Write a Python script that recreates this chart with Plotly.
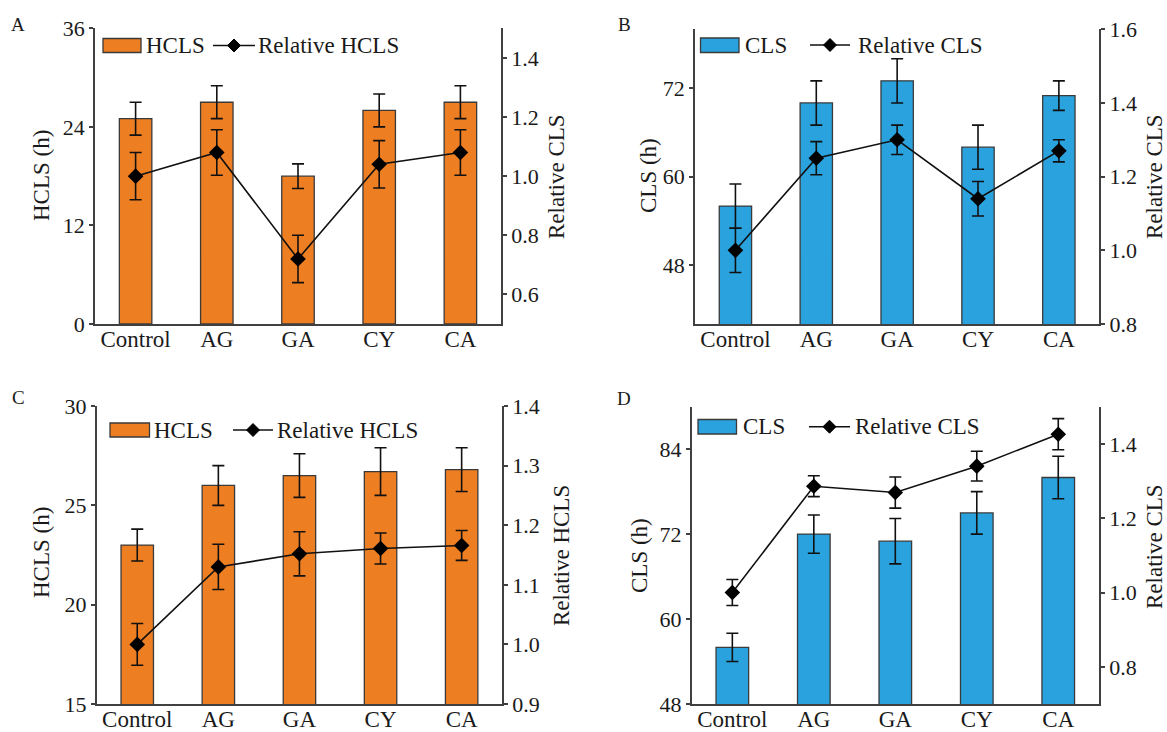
import plotly.graph_objects as go

# ---------------- data ----------------
categories = ["Control", "AG", "GA", "CY", "CA"]

a_hcls = [25.0, 27.0, 18.0, 26.0, 27.0]
a_hcls_err = [2.0, 2.0, 1.5, 2.0, 2.0]
a_rel = [1.0, 1.08, 0.72, 1.04, 1.08]
a_rel_err = [0.08, 0.077, 0.08, 0.08, 0.077]

b_cls = [56.0, 70.0, 73.0, 64.0, 71.0]
b_cls_err = [3.0, 3.0, 3.0, 3.0, 2.0]
b_rel = [1.0, 1.25, 1.30, 1.14, 1.27]
b_rel_err = [0.06, 0.045, 0.04, 0.047, 0.03]

c_hcls = [23.0, 26.0, 26.5, 26.7, 26.8]
c_hcls_err = [0.8, 1.0, 1.1, 1.2, 1.1]
c_rel = [1.0, 1.13, 1.152, 1.161, 1.166]
c_rel_err = [0.035, 0.038, 0.037, 0.026, 0.025]

d_cls = [56.0, 72.0, 71.0, 75.0, 80.0]
d_cls_err = [2.0, 2.7, 3.2, 3.0, 3.0]
d_rel = [1.0, 1.286, 1.269, 1.34, 1.426]
d_rel_err = [0.035, 0.028, 0.042, 0.04, 0.042]

# ---------------- style ----------------
W, H = 1167, 732
ORANGE = "#EE7E22"
BLUE = "#29A2DD"
OUTLINE = "#3a3a3a"
AXC = "#404040"
TXT = "#1a1a1a"
FONT = "Liberation Serif"
FS = 23
FS_Y = 22


def px(x):
    return x / W


def py(y):
    return 1 - y / H


panels = [
    dict(letter="A", letter_xy=(18, 24), bars=a_hcls, bars_err=a_hcls_err, rel=a_rel, rel_err=a_rel_err,
         color=ORANGE, bname="HCLS", rname="Relative HCLS",
         lrange=[0, 36], lticks=[0, 12, 24, 36], rrange=[0.5, 1.5], rticks=[0.6, 0.8, 1.0, 1.2, 1.4],
         xd=(95, 501), yd=(28.3, 324), ltitle="HCLS (h)", ltitle_xy=(41, 176),
         rtitle="Relative CLS", rtitle_xy=(556, 177),
         leg=dict(rect=(103, 141, 38.5, 52.5), t1=143.5, line=(213, 255), t2=256, yc=45.5)),
    dict(letter="B", letter_xy=(624, 24), bars=b_cls, bars_err=b_cls_err, rel=b_rel, rel_err=b_rel_err,
         color=BLUE, bname="CLS", rname="Relative CLS",
         lrange=[40, 80], lticks=[48, 60, 72], rrange=[0.8, 1.6], rticks=[0.8, 1.0, 1.2, 1.4, 1.6],
         xd=(695, 1099.3), yd=(29.3, 324), ltitle="CLS (h)", ltitle_xy=(648, 176),
         rtitle="Relative CLS", rtitle_xy=(1154, 177),
         leg=dict(rect=(700.5, 739, 38, 52.5), t1=743.5, line=(810, 850), t2=856, yc=45)),
    dict(letter="C", letter_xy=(18, 397), bars=c_hcls, bars_err=c_hcls_err, rel=c_rel, rel_err=c_rel_err,
         color=ORANGE, bname="HCLS", rname="Relative HCLS",
         lrange=[15, 30], lticks=[15, 20, 25, 30], rrange=[0.9, 1.4], rticks=[0.9, 1.0, 1.1, 1.2, 1.3, 1.4],
         xd=(96.7, 502.2), yd=(406, 704), ltitle="HCLS (h)", ltitle_xy=(41, 553),
         rtitle="Relative HCLS", rtitle_xy=(561, 556),
         leg=dict(rect=(110, 149.5, 423, 437), t1=152, line=(233, 273), t2=275, yc=430)),
    dict(letter="D", letter_xy=(624, 398), bars=d_cls, bars_err=d_cls_err, rel=d_rel, rel_err=d_rel_err,
         color=BLUE, bname="CLS", rname="Relative CLS",
         lrange=[48, 90], lticks=[48, 60, 72, 84], rrange=[0.7, 1.5], rticks=[0.8, 1.0, 1.2, 1.4],
         xd=(691.6, 1099), yd=(406.7, 704), ltitle="CLS (h)", ltitle_xy=(639, 556),
         rtitle="Relative CLS", rtitle_xy=(1154, 547),
         leg=dict(rect=(698, 736.5, 419.5, 434), t1=741, line=(809, 850), t2=853, yc=426.7)),
]

fig = go.Figure()
layout = dict(
    width=W, height=H,
    margin=dict(l=0, r=0, t=0, b=0, pad=0),
    paper_bgcolor="white", plot_bgcolor="white",
    showlegend=False,
    font=dict(family=FONT, size=FS, color=TXT),
)
shapes = []
annotations = []

for i, p in enumerate(panels):
    n = i + 1
    xname = "x" if n == 1 else f"x{n}"
    yl = 2 * n - 1
    yr = 2 * n
    ylname = "y" if yl == 1 else f"y{yl}"
    yrname = f"y{yr}"

    fig.add_trace(go.Bar(
        x=categories, y=p["bars"], xaxis=xname, yaxis=ylname, name=p["bname"],
        width=0.4,
        marker=dict(color=p["color"], line=dict(color=OUTLINE, width=1.3)),
        error_y=dict(type="data", array=p["bars_err"], visible=True, color="#111", thickness=1.6, width=6),
    ))
    fig.add_trace(go.Scatter(
        x=categories, y=p["rel"], xaxis=xname, yaxis=yrname, name=p["rname"],
        mode="lines+markers",
        line=dict(color="#111", width=1.6),
        marker=dict(symbol="diamond", size=12, color="#000"),
        error_y=dict(type="data", array=p["rel_err"], visible=True, color="#111", thickness=1.6, width=6),
    ))

    xd = [px(p["xd"][0]), px(p["xd"][1])]
    yd = [py(p["yd"][1]), py(p["yd"][0])]
    xkey = "xaxis" if n == 1 else f"xaxis{n}"
    ylkey = "yaxis" if yl == 1 else f"yaxis{yl}"
    yrkey = f"yaxis{yr}"

    layout[xkey] = dict(
        domain=xd, anchor=ylname, type="category", range=[-0.5, 4.5], automargin=False,
        showline=True, linecolor=AXC, linewidth=1.5, ticks="", showgrid=False, zeroline=False,
        ticklabelstandoff=-6,
        tickfont=dict(family=FONT, size=FS, color=TXT), fixedrange=True,
    )
    layout[ylkey] = dict(
        domain=yd, anchor=xname, range=p["lrange"], tickvals=p["lticks"], automargin=False,
        showline=True, linecolor=AXC, linewidth=1.5, ticks="outside", ticklen=4, tickwidth=1.5,
        tickcolor=AXC, showgrid=False, zeroline=False,
        tickfont=dict(family=FONT, size=FS_Y, color=TXT),
    )
    layout[yrkey] = dict(
        domain=yd, anchor=xname, overlaying=ylname, side="right", range=p["rrange"], automargin=False,
        tickvals=p["rticks"], tickformat=".1f",
        showline=True, linecolor=AXC, linewidth=1.5, ticks="outside", ticklen=4, tickwidth=1.5,
        tickcolor=AXC, showgrid=False, zeroline=False,
        tickfont=dict(family=FONT, size=FS_Y, color=TXT),
    )

    annotations.append(dict(text=p["letter"], x=px(p["letter_xy"][0]), y=py(p["letter_xy"][1]),
                            xref="paper", yref="paper", showarrow=False, xanchor="center", yanchor="middle",
                            font=dict(family=FONT, size=19, color=TXT)))
    annotations.append(dict(text=p["ltitle"], x=px(p["ltitle_xy"][0]), y=py(p["ltitle_xy"][1]),
                            xref="paper", yref="paper", showarrow=False, textangle=-90,
                            xanchor="center", yanchor="middle", font=dict(family=FONT, size=FS, color=TXT)))
    annotations.append(dict(text=p["rtitle"], x=px(p["rtitle_xy"][0]), y=py(p["rtitle_xy"][1]),
                            xref="paper", yref="paper", showarrow=False, textangle=-90,
                            xanchor="center", yanchor="middle", font=dict(family=FONT, size=FS, color=TXT)))

    lg = p["leg"]
    x0, x1, y0, y1 = lg["rect"]
    shapes.append(dict(type="rect", xref="paper", yref="paper", x0=px(x0), x1=px(x1), y0=py(y1), y1=py(y0),
                       fillcolor=p["color"], line=dict(color=OUTLINE, width=1.3)))
    annotations.append(dict(text=p["bname"], x=px(lg["t1"]), y=py(lg["yc"]), xref="paper", yref="paper",
                            showarrow=False, xanchor="left", yanchor="middle",
                            font=dict(family=FONT, size=FS, color=TXT)))
    lx0, lx1 = lg["line"]
    shapes.append(dict(type="line", xref="paper", yref="paper", x0=px(lx0), x1=px(lx1),
                       y0=py(lg["yc"]), y1=py(lg["yc"]), line=dict(color="#111", width=1.6)))
    cx = (lx0 + lx1) / 2
    cy = lg["yc"]
    d = 6.5
    path = (f"M {px(cx)},{py(cy - d)} L {px(cx + d)},{py(cy)} L {px(cx)},{py(cy + d)} "
            f"L {px(cx - d)},{py(cy)} Z")
    shapes.append(dict(type="path", xref="paper", yref="paper", path=path, fillcolor="#000",
                       line=dict(color="#000", width=1)))
    annotations.append(dict(text=p["rname"], x=px(lg["t2"]), y=py(lg["yc"]), xref="paper", yref="paper",
                            showarrow=False, xanchor="left", yanchor="middle",
                            font=dict(family=FONT, size=FS, color=TXT)))

layout["shapes"] = shapes
layout["annotations"] = annotations
fig.update_layout(**layout)

fig.write_html(
    "out.html",
    config={"displayModeBar": False},
    post_script="document.body.style.margin='0';document.body.style.padding='0';"
                "document.body.style.overflow='hidden';",
)
